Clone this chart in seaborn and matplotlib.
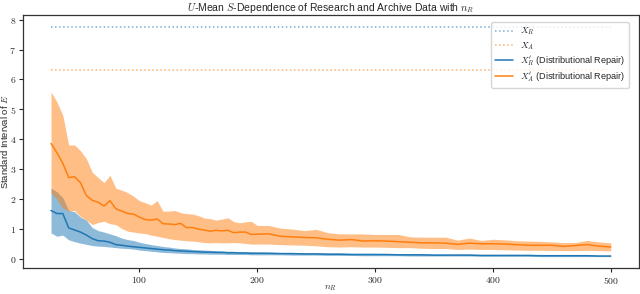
import numpy as np
import pandas as pd
import matplotlib
matplotlib.use('Agg')
import matplotlib.pyplot as plt
import seaborn as sns

sns.set_theme(style="ticks")
plt.rcParams['font.family'] = ['Liberation Sans', 'DejaVu Sans']
plt.rcParams['mathtext.fontset'] = 'cm'

# sample sizes n_R
n_r = [25, 30, 35, 40, 45, 50, 55, 60, 65, 70, 75, 80, 85, 90, 95, 100,
       105, 110, 115, 120, 125, 130, 135, 140, 145, 150, 155, 160, 165, 170,
       175, 180, 185, 190, 195, 200, 210, 220, 230, 240, 250, 260, 270, 280,
       290, 300, 310, 320, 330, 340, 350, 360, 370, 380, 390, 400, 410, 420,
       430, 440, 450, 460, 470, 480, 490, 500]

# reference levels without repair
x_r_level = 7.77
x_a_level = 6.33

# X'_A (Distributional Repair): mean and band
xa_mean = [3.86, 3.55, 3.20, 2.72, 2.75, 2.55, 2.12, 1.96, 1.90, 1.77, 1.95, 1.68,
           1.60, 1.52, 1.50, 1.40, 1.32, 1.30, 1.34, 1.18, 1.17, 1.15, 1.19, 1.05,
           1.05, 1.00, 0.97, 0.93, 0.96, 0.94, 0.96, 0.88, 0.90, 0.90, 0.82, 0.83,
           0.84, 0.76, 0.74, 0.72, 0.71, 0.66, 0.63, 0.65, 0.60, 0.61, 0.60, 0.58,
           0.56, 0.54, 0.54, 0.53, 0.49, 0.53, 0.51, 0.51, 0.50, 0.48, 0.46, 0.46,
           0.46, 0.42, 0.45, 0.48, 0.43, 0.40]
xa_upper = [5.58, 5.25, 4.80, 3.81, 3.81, 3.62, 3.35, 2.90, 2.72, 2.55, 2.80, 2.37,
            2.30, 2.22, 2.10, 1.95, 1.88, 1.80, 1.95, 1.60, 1.60, 1.62, 1.55, 1.52,
            1.50, 1.45, 1.37, 1.35, 1.30, 1.33, 1.38, 1.25, 1.21, 1.24, 1.26, 1.12,
            1.12, 1.03, 1.00, 0.95, 0.99, 0.88, 0.84, 0.84, 0.84, 0.82, 0.82, 0.82,
            0.74, 0.73, 0.73, 0.73, 0.63, 0.70, 0.62, 0.66, 0.64, 0.61, 0.60, 0.59,
            0.57, 0.55, 0.55, 0.62, 0.57, 0.54]
xa_lower = [2.20, 2.00, 1.70, 1.60, 1.62, 1.42, 1.30, 1.15, 1.22, 1.26, 1.18, 1.15,
            1.02, 0.93, 0.90, 0.87, 0.85, 0.80, 0.76, 0.72, 0.68, 0.65, 0.63, 0.61,
            0.60, 0.58, 0.55, 0.54, 0.55, 0.54, 0.54, 0.55, 0.54, 0.52, 0.50, 0.50,
            0.50, 0.48, 0.47, 0.46, 0.44, 0.41, 0.40, 0.41, 0.40, 0.40, 0.39, 0.38,
            0.38, 0.36, 0.35, 0.35, 0.32, 0.33, 0.32, 0.32, 0.31, 0.30, 0.29, 0.29,
            0.29, 0.28, 0.28, 0.29, 0.28, 0.27]

# X'_R (Distributional Repair): mean and band
xr_mean = [1.62, 1.52, 1.52, 1.04, 0.97, 0.90, 0.80, 0.68, 0.61, 0.60, 0.56, 0.48,
           0.46, 0.43, 0.41, 0.39, 0.37, 0.35, 0.33, 0.31, 0.30, 0.28, 0.27, 0.26,
           0.25, 0.24, 0.23, 0.23, 0.22, 0.22, 0.21, 0.21, 0.20, 0.20, 0.19, 0.19,
           0.19, 0.18, 0.18, 0.17, 0.17, 0.16, 0.16, 0.15, 0.15, 0.15, 0.15, 0.14,
           0.14, 0.14, 0.13, 0.13, 0.13, 0.13, 0.12, 0.12, 0.12, 0.12, 0.12, 0.11,
           0.11, 0.11, 0.11, 0.11, 0.10, 0.10]
xr_upper = [2.37, 2.25, 2.05, 1.62, 1.58, 1.40, 1.30, 1.05, 0.95, 0.90, 0.84, 0.78,
            0.70, 0.65, 0.62, 0.56, 0.52, 0.48, 0.45, 0.42, 0.40, 0.37, 0.35, 0.34,
            0.32, 0.31, 0.30, 0.29, 0.28, 0.27, 0.26, 0.26, 0.25, 0.25, 0.24, 0.24,
            0.23, 0.22, 0.22, 0.21, 0.21, 0.20, 0.20, 0.19, 0.19, 0.19, 0.18, 0.17,
            0.17, 0.17, 0.16, 0.16, 0.16, 0.16, 0.15, 0.15, 0.15, 0.14, 0.14, 0.14,
            0.13, 0.13, 0.13, 0.13, 0.12, 0.12]
xr_lower = [0.87, 0.76, 0.80, 0.64, 0.58, 0.53, 0.49, 0.45, 0.43, 0.42, 0.40, 0.38,
            0.36, 0.35, 0.33, 0.30, 0.28, 0.26, 0.24, 0.22, 0.21, 0.20, 0.19, 0.18,
            0.18, 0.17, 0.17, 0.16, 0.16, 0.16, 0.15, 0.15, 0.15, 0.15, 0.14, 0.14,
            0.14, 0.14, 0.13, 0.13, 0.13, 0.12, 0.12, 0.12, 0.11, 0.11, 0.11, 0.11,
            0.10, 0.10, 0.10, 0.10, 0.10, 0.10, 0.09, 0.09, 0.09, 0.09, 0.09, 0.08,
            0.08, 0.08, 0.08, 0.08, 0.08, 0.08]

xticks = [100, 200, 300, 400, 500]
xtick_labels = ['$100$', '$200$', '$300$', '$400$', '$500$']
yticks = [0, 1, 2, 3, 4, 5, 6, 7, 8]
ytick_labels = ['$0$', '$1$', '$2$', '$3$', '$4$', '$5$', '$6$', '$7$', '$8$']

blue = '#1f77b4'
orange = '#ff7f0e'

df = pd.DataFrame({'n_R': n_r, 'xa_mean': xa_mean, 'xr_mean': xr_mean})

fig, ax = plt.subplots(figsize=(6.4, 2.94), dpi=100)

ax.plot([n_r[0], n_r[-1]], [x_r_level, x_r_level], ls=':', color=blue, alpha=0.6, lw=1.1, label='$X_R$')
ax.plot([n_r[0], n_r[-1]], [x_a_level, x_a_level], ls=':', color=orange, alpha=0.6, lw=1.1, label='$X_A$')

ax.fill_between(n_r, xr_lower, xr_upper, color=blue, alpha=0.5, lw=0)
ax.fill_between(n_r, xa_lower, xa_upper, color=orange, alpha=0.5, lw=0)
sns.lineplot(data=df, x='n_R', y='xr_mean', color=blue, lw=1.1, ax=ax,
             label="$X_R'$ (Distributional Repair)")
sns.lineplot(data=df, x='n_R', y='xa_mean', color=orange, lw=1.1, ax=ax,
             label="$X_A'$ (Distributional Repair)")

ax.set_xticks(xticks, xtick_labels)
ax.set_yticks(yticks, ytick_labels)
ax.tick_params(labelsize=7, length=3, width=0.8, pad=2)
for s in ax.spines.values():
    s.set_color('#333333')
    s.set_linewidth(0.9)

ax.set_title('$U$-Mean $S$-Dependence of Research and Archive Data with $n_R$', fontsize=7.5, pad=3)
ax.set_xlabel('$n_R$', fontsize=7)
ax.set_ylabel('Standard Interval of $E$', fontsize=6.8)
ax.yaxis.set_label_coords(-0.021, 0.5)
ax.xaxis.set_label_coords(0.5, -0.058)

ax.legend(loc='upper right', fontsize=6.6, frameon=True, framealpha=0.8,
          edgecolor='#cccccc', borderpad=0.4, labelspacing=0.3, handlelength=2.0,
          bbox_to_anchor=(0.992, 0.99))

fig.subplots_adjust(left=0.036, right=0.998, bottom=0.088, top=0.949)
fig.savefig('out.png', dpi=100)
